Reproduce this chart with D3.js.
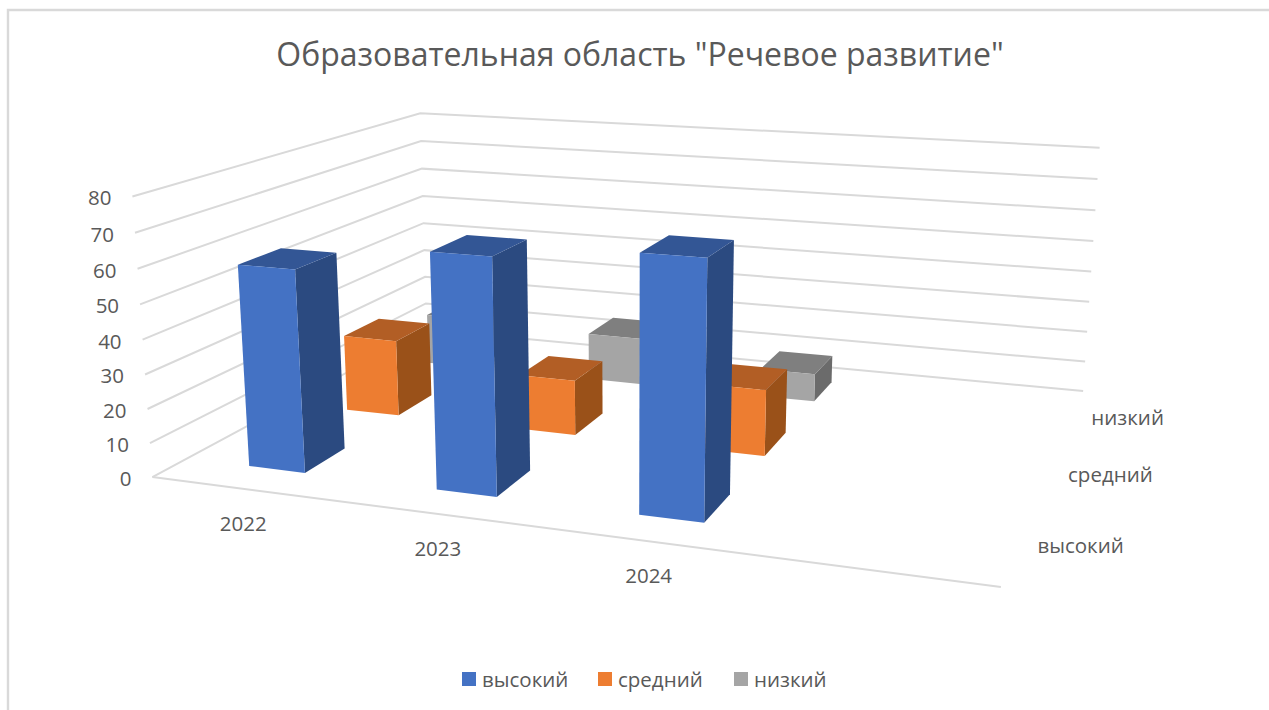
<!DOCTYPE html>
<html><head><meta charset="utf-8">
<script src="https://cdn.jsdelivr.net/npm/d3@7"></script>
<style>html,body{margin:0;padding:0;background:#fff;overflow:hidden}svg{display:block}text{font-family:"Open Sans",sans-serif;fill:#595959}</style>
</head><body><svg id="c" width="1269" height="710"></svg>
<script>
const title = 'Образовательная область "Речевое развитие"';
const categories = ["2022", "2023", "2024", ""];
const seriesNames = ["высокий", "средний", "низкий"];
const vysokiy = [59, 67, 71, null];
const sredniy = [24, 17, 20, null];
const nizkiy  = [17, 15.5, 9, null];
const valueTicks = [0,10,20,30,40,50,60,70,80];
const seriesColors = [
  {front:"#4472C4", top:"#335695", side:"#2B4A80"},
  {front:"#ED7D31", top:"#B25E25", side:"#9A5119"},
  {front:"#A5A5A5", top:"#7F7F7F", side:"#6B6B6B"}];
const seriesValues = [vysokiy, sredniy, nizkiy];

// camera calibration: unit box corners (u,d,h) -> screen
const calib = [
 [0,0,0,152,476.7],[0,0,1,132.7,196.7],[0,1,0,427,330],[0,1,1,420,113],
 [1,1,0,1083,391],[1,1,1,1099.7,147.7],[1,0,0,1001,587]];
function solve(A,b){const n=b.length,M=A.map((r,i)=>[...r,b[i]]);
 for(let i=0;i<n;i++){let p=i;for(let r=i+1;r<n;r++)if(Math.abs(M[r][i])>Math.abs(M[p][i]))p=r;[M[i],M[p]]=[M[p],M[i]];
  for(let r=0;r<n;r++){if(r===i)continue;const f=M[r][i]/M[i][i];for(let c=i;c<=n;c++)M[r][c]-=f*M[i][c];}}
 return M.map((r,i)=>r[n]/r[i]);}
function fitCamera(pts){const rows=[],rhs=[];
 pts.forEach(([u,d,h,x,y])=>{rows.push([u,d,h,1,0,0,0,0,-x*u,-x*d,-x*h]);rhs.push(x);rows.push([0,0,0,0,u,d,h,1,-y*u,-y*d,-y*h]);rhs.push(y);});
 const N=11,A=d3.range(N).map(i=>d3.range(N).map(j=>d3.sum(rows,r=>r[i]*r[j]))),b=d3.range(N).map(i=>d3.sum(rows,(r,k)=>r[i]*rhs[k]));
 return solve(A,b);}
const P=fitCamera(calib);
function project(u,d,h){const w=P[8]*u+P[9]*d+P[10]*h+1;return [(P[0]*u+P[1]*d+P[2]*h+P[3])/w,(P[4]*u+P[5]*d+P[6]*h+P[7])/w];}

const uScale=d3.scaleBand().domain(categories.map((c,i)=>i)).range([0,1]).paddingInner(0.695).paddingOuter(0.3475);
const dScale=d3.scaleBand().domain(seriesNames).range([0,1]).paddingInner(0.6).paddingOuter(0.3);
const hScale=d3.scaleLinear().domain([0,80]).range([0,1]);

const svg=d3.select("#c");
svg.append("path").attr("d","M8,710V10H1269").attr("fill","none").attr("stroke","#d9d9d9").attr("stroke-width",2.4);
const line=d3.line();
const grid=svg.append("g").attr("fill","none").attr("stroke","#d9d9d9").attr("stroke-width",2);
valueTicks.forEach(v=>{const h=hScale(v);grid.append("path").attr("d",line([project(0,0,h),project(0,1,h),project(1,1,h)]));});
grid.append("path").attr("d",line([project(0,0,0),project(1,0,0)]));

const axisFont=20.5;
svg.append("g").selectAll("text").data(valueTicks).join("text").text(d=>d)
 .attr("text-anchor","end").attr("dominant-baseline","central").attr("font-size",axisFont)
 .attr("x",d=>project(0,0,hScale(d))[0]-21).attr("y",d=>project(0,0,hScale(d))[1]+1);
svg.append("g").selectAll("text").data(categories.filter(c=>c)).join("text").text(d=>d)
 .attr("text-anchor","middle").attr("dominant-baseline","central").attr("font-size",axisFont)
 .attr("x",(d,i)=>project(uScale(i)+uScale.bandwidth()/2,0,0)[0]-1).attr("y",(d,i)=>project(uScale(i)+uScale.bandwidth()/2,0,0)[1]+34);
const seriesLabelDx=[62,62,55];
svg.append("g").selectAll("text").data(seriesNames).join("text").text(d=>d)
 .attr("text-anchor","middle").attr("dominant-baseline","central").attr("font-size",axisFont)
 .attr("x",(d,i)=>project(1,dScale(d)+dScale.bandwidth()/2,0)[0]+seriesLabelDx[i]).attr("y",d=>project(1,dScale(d)+dScale.bandwidth()/2,0)[1]+0.5);

const bars=svg.append("g");
const poly=(pts,fill)=>bars.append("polygon").attr("points",pts.map(p=>p.join(",")).join(" ")).attr("fill",fill);
[2,1,0].forEach(s=>{
 categories.forEach((c,i)=>{const v=seriesValues[s][i];if(v==null)return;
  const u0=uScale(i),u1=u0+uScale.bandwidth(),d0=dScale(seriesNames[s]),d1=d0+dScale.bandwidth(),h=hScale(v),col=seriesColors[s];
  poly([project(u1,d0,0),project(u1,d1,0),project(u1,d1,h),project(u1,d0,h)],col.side);
  poly([project(u0,d0,h),project(u1,d0,h),project(u1,d1,h),project(u0,d1,h)],col.top);
  poly([project(u0,d0,0),project(u1,d0,0),project(u1,d0,h),project(u0,d0,h)],col.front);
 });
});

svg.append("text").text(title).attr("x",640).attr("y",53.5).attr("text-anchor","middle").attr("dominant-baseline","central").attr("font-size",32);
const lg=[{x:462},{x:598},{x:734}];
const legend=svg.append("g").selectAll("g").data(seriesNames).join("g").attr("transform",(d,i)=>`translate(${lg[i].x},672)`);
legend.append("rect").attr("width",14).attr("height",14).attr("fill",(d,i)=>seriesColors[i].front);
legend.append("text").text(d=>d).attr("x",20).attr("y",7).attr("dominant-baseline","central").attr("font-size",axisFont);
</script></body></html>
